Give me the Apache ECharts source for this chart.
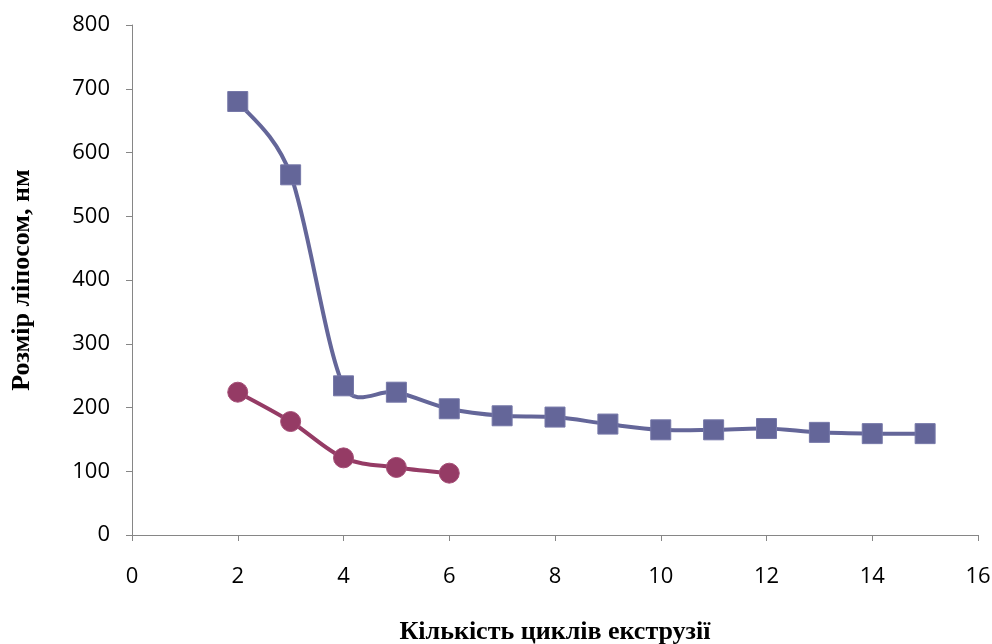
<!DOCTYPE html>
<html>
<head>
<meta charset="utf-8">
<script src="https://cdn.jsdelivr.net/npm/echarts@6/dist/echarts.min.js"></script>
<style>html,body{margin:0;padding:0;background:#fff}#c{width:992px;height:644px}</style>
</head>
<body>
<div id="c"></div>
<script>
var cyclesA = [2, 3, 4, 5, 6, 7, 8, 9, 10, 11, 12, 13, 14, 15];
var sizeA = [680, 565, 234, 224, 198, 187, 185, 174, 165, 165, 167, 161, 159, 159];
var cyclesB = [2, 3, 4, 5, 6];
var sizeB = [224, 178, 121, 106, 97];
var xTitle = 'Кількість циклів екструзії';
var yTitle = 'Розмір ліпосом, нм';

function pairs(xs, ys) { return xs.map(function (x, i) { return [x, ys[i]]; }); }

var colA = '#646699', colB = '#953b65';

// Smoothed line (spreadsheet-style Bezier) through the points as mapped by the axes
function curveSeries(data, color) {
  return {
    type: 'custom', data: data, z: 1, silent: true,
    renderItem: function (params, api) {
      if (params.dataIndex !== 0) return null;
      var p = data.map(function (d) { return api.coord(d); });
      var n = p.length, t = 1 / 6, cap = 0.5;
      function ctrl(i, segLen, sign) {
        var a = p[Math.max(i - 1, 0)], b = p[Math.min(i + 1, n - 1)];
        var dx = (b[0] - a[0]) * t, dy = (b[1] - a[1]) * t;
        var l = Math.sqrt(dx * dx + dy * dy), lim = segLen * cap;
        if (l > lim && l > 0) { dx *= lim / l; dy *= lim / l; }
        return [p[i][0] + sign * dx, p[i][1] + sign * dy];
      }
      var path = 'M' + p[0][0] + ' ' + p[0][1];
      for (var i = 0; i < n - 1; i++) {
        var seg = Math.sqrt(Math.pow(p[i + 1][0] - p[i][0], 2) + Math.pow(p[i + 1][1] - p[i][1], 2));
        var c1 = ctrl(i, seg, 1), c2 = ctrl(i + 1, seg, -1);
        path += ' C' + c1[0] + ' ' + c1[1] + ' ' + c2[0] + ' ' + c2[1] + ' ' + p[i + 1][0] + ' ' + p[i + 1][1];
      }
      return {
        type: 'path',
        shape: { pathData: path },
        style: { fill: 'none', stroke: color, lineWidth: 4, lineJoin: 'round', lineCap: 'round' }
      };
    }
  };
}

var chart = echarts.init(document.getElementById('c'));
var axisCol = '#868686';
var dataA = pairs(cyclesA, sizeA), dataB = pairs(cyclesB, sizeB);
chart.setOption({
  animation: false,
  grid: { left: 132, right: 14, top: 25, bottom: 109, containLabel: false, outerBoundsMode: 'none' },
  xAxis: {
    type: 'value', min: 0, max: 16, interval: 2,
    name: xTitle, nameLocation: 'middle', nameGap: 84,
    nameTextStyle: { fontFamily: 'Liberation Serif', fontWeight: 'bold', fontSize: 26, color: '#000' },
    axisLine: { show: true, lineStyle: { color: axisCol, width: 1 } },
    axisTick: { show: true, length: 6, lineStyle: { color: axisCol } },
    axisLabel: { fontFamily: 'Open Sans', fontSize: 22, color: '#000', margin: 31 },
    splitLine: { show: false }
  },
  yAxis: {
    type: 'value', min: 0, max: 800, interval: 100,
    name: yTitle, nameLocation: 'middle', nameGap: 97, nameRotate: 90,
    nameTextStyle: { fontFamily: 'Liberation Serif', fontWeight: 'bold', fontSize: 26, color: '#000' },
    axisLine: { show: true, lineStyle: { color: axisCol, width: 1 } },
    axisTick: { show: true, length: 6, lineStyle: { color: axisCol } },
    axisLabel: { fontFamily: 'Open Sans', fontSize: 22, color: '#000', margin: 22 },
    splitLine: { show: false }
  },
  series: [
    curveSeries(dataA, colA),
    curveSeries(dataB, colB),
    {
      type: 'line', data: dataA, z: 3,
      symbol: 'rect', symbolSize: 20,
      lineStyle: { width: 0, opacity: 0 },
      itemStyle: { color: colA, borderColor: '#7678a8', borderWidth: 1 }
    },
    {
      type: 'line', data: dataB, z: 3,
      symbol: 'circle', symbolSize: 20,
      lineStyle: { width: 0, opacity: 0 },
      itemStyle: { color: colB, borderColor: '#a44d75', borderWidth: 1 }
    }
  ]
});
</script>
</body>
</html>
